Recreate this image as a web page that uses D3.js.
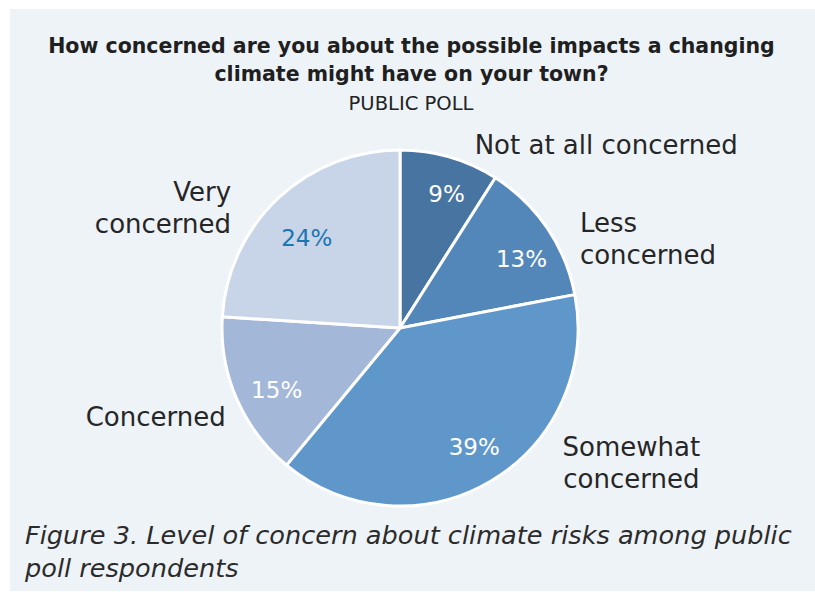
<!DOCTYPE html>
<html>
<head>
<meta charset="utf-8">
<script src="https://cdn.jsdelivr.net/npm/d3@7"></script>
<style>
  body { margin: 0; background: #ffffff; }
  svg { display: block; }
</style>
</head>
<body>
<div id="chart"></div>
<script>
// data
const categories = ["Not at all concerned", "Less concerned", "Somewhat concerned", "Concerned", "Very concerned"];
const labelLines = [["Not at all concerned"], ["Less", "concerned"], ["Somewhat", "concerned"], ["Concerned"], ["Very", "concerned"]];
const values = [9, 13, 39, 15, 24];
const colors = ["#4874a2", "#5387b9", "#6097ca", "#a3b7d9", "#c8d4e8"];
const pctColors = ["#ffffff", "#ffffff", "#ffffff", "#ffffff", "#1b75b4"];

const titleLines = ["How concerned are you about the possible impacts a changing", "climate might have on your town?"];
const subtitle = "PUBLIC POLL";
const captionLines = ["Figure 3. Level of concern about climate risks among public", "poll respondents"];

// layout
const W = 815, H = 597;
const cx = 400, cy = 328, R = 178;
const font = "'DejaVu Sans', sans-serif";
// outer label anchor + nudge from point on the arc at R+25
const labelAnchor = ["start", "start", "middle", "end", "end"];
const labelNudge = [[18, 12], [12, 25], [128, -40], [12, 8], [-30, 28]];
// small nudges for the percentage labels
const pctNudge = [[7, 2], [4, 11], [2, -3], [7, 6], [4, 13]];

const svg = d3.select("#chart").append("svg")
  .attr("width", W)
  .attr("height", H);

// panel
svg.append("rect")
  .attr("x", 10).attr("y", 9)
  .attr("width", W - 10).attr("height", 582)
  .attr("fill", "#eef3f8");

// fit a text element to a width by scaling its font size
const fitWidth = (sel, target) => {
  const w = sel.node().getComputedTextLength();
  const fs = parseFloat(sel.attr("font-size"));
  sel.attr("font-size", (fs * target / w).toFixed(2));
};

// title
const t1 = svg.append("text")
  .attr("x", 411.5).attr("y", 53)
  .attr("text-anchor", "middle")
  .attr("font-family", font).attr("font-weight", "bold")
  .attr("font-size", 22).attr("fill", "#1f1f1f")
  .text(titleLines[0]);
fitWidth(t1, 727);
svg.append("text")
  .attr("x", 411.5).attr("y", 81)
  .attr("text-anchor", "middle")
  .attr("font-family", font).attr("font-weight", "bold")
  .attr("font-size", t1.attr("font-size")).attr("fill", "#1f1f1f")
  .text(titleLines[1]);

const st = svg.append("text")
  .attr("x", 411).attr("y", 110)
  .attr("text-anchor", "middle")
  .attr("font-family", font)
  .attr("font-size", 17).attr("fill", "#222")
  .text(subtitle);
fitWidth(st, 125);

// pie
const pie = d3.pie().sort(null).value(d => d)
  .startAngle(0).endAngle(2 * Math.PI);
const arcs = pie(values);
const arc = d3.arc().innerRadius(0).outerRadius(R);
const pctArc = d3.arc().innerRadius(142).outerRadius(142);
const outerArc = d3.arc().innerRadius(R + 25).outerRadius(R + 25);

const g = svg.append("g").attr("transform", `translate(${cx},${cy})`);

g.selectAll("path.slice")
  .data(arcs)
  .enter()
  .append("path")
  .attr("class", "slice")
  .attr("d", arc)
  .attr("fill", (d, i) => colors[i])
  .attr("stroke", "#ffffff")
  .attr("stroke-width", 3)
  .attr("stroke-linejoin", "round");

g.selectAll("text.pct")
  .data(arcs)
  .enter()
  .append("text")
  .attr("class", "pct")
  .attr("transform", (d, i) => {
    const p = pctArc.centroid(d);
    return `translate(${p[0] + pctNudge[i][0]},${p[1] + pctNudge[i][1]})`;
  })
  .attr("text-anchor", "middle")
  .attr("dy", "0.35em")
  .attr("font-family", font)
  .attr("font-size", 23)
  .attr("fill", (d, i) => pctColors[i])
  .text(d => d.data + "%");

// category labels
const lineH = 32;
g.selectAll("text.cat")
  .data(arcs)
  .enter()
  .append("text")
  .attr("class", "cat")
  .attr("transform", (d, i) => {
    const p = outerArc.centroid(d);
    return `translate(${p[0] + labelNudge[i][0]},${p[1] + labelNudge[i][1]})`;
  })
  .attr("text-anchor", (d, i) => labelAnchor[i])
  .attr("font-family", font)
  .attr("font-size", 26)
  .attr("fill", "#262626")
  .each(function(d, i) {
    const lines = labelLines[i];
    const off = -(lines.length - 1) * lineH / 2;
    d3.select(this).selectAll("tspan")
      .data(lines)
      .enter()
      .append("tspan")
      .attr("x", 0)
      .attr("y", (l, j) => off + j * lineH)
      .attr("dy", "0.35em")
      .text(l => l);
  });

// caption
const c1 = svg.append("text")
  .attr("x", 25).attr("y", 544)
  .attr("font-family", font).attr("font-style", "italic")
  .attr("font-size", 26).attr("fill", "#2b2b2b")
  .text(captionLines[0]);
fitWidth(c1, 767);
svg.append("text")
  .attr("x", 25).attr("y", 577)
  .attr("font-family", font).attr("font-style", "italic")
  .attr("font-size", c1.attr("font-size")).attr("fill", "#2b2b2b")
  .text(captionLines[1]);
</script>
</body>
</html>
